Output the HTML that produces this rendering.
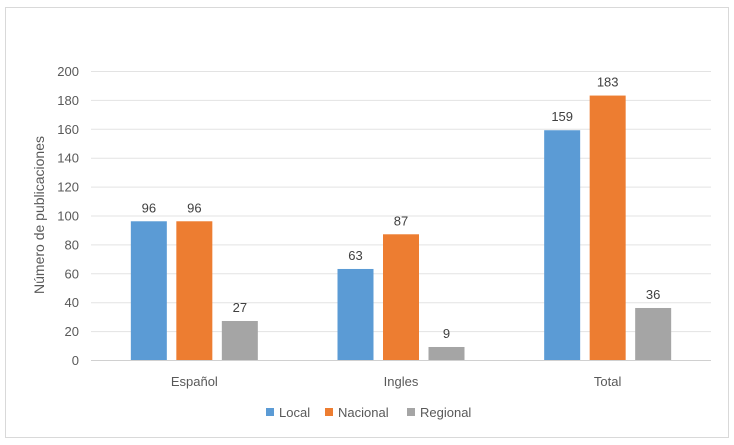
<!DOCTYPE html>
<html><head><meta charset="utf-8"><style>
body{margin:0;background:#fff;}
svg{display:block;font-family:"Liberation Sans",sans-serif;}
</style></head><body>
<svg id="c" width="734" height="445">
<rect x="5.5" y="7.5" width="723" height="430" fill="#fff" stroke="#d9d9d9"/>
<g id="grid"></g><g id="bars"></g><g id="labels"></g>
<text transform="translate(44,215) rotate(-90)" text-anchor="middle" font-size="14" fill="#595959">Número de publicaciones</text>
<g font-size="13" fill="#595959">
<rect x="266" y="408" width="8" height="8" fill="#5b9bd5"/>
<text x="279" y="417">Local</text>
<rect x="325" y="408" width="8" height="8" fill="#ed7d31"/>
<text x="338" y="417">Nacional</text>
<rect x="407" y="408" width="8" height="8" fill="#a5a5a5"/>
<text x="420" y="417">Regional</text>
</g>
</svg>
<script>
const categories=["Español","Ingles","Total"];
const seriesNames=["Local","Nacional","Regional"];
const local=[96,63,159];
const nacional=[96,87,183];
const regional=[27,9,36];
const yTicks=[0,20,40,60,80,100,120,140,160,180,200];
const colors=["#5b9bd5","#ed7d31","#a5a5a5"];
const NS="http://www.w3.org/2000/svg";
const x0=91,x1=711,yBase=360,yTop=71,yMax=200;
const y=v=>yBase-(v/yMax)*(yBase-yTop);
const gw=(x1-x0)/categories.length;
const cx=i=>x0+gw*(i+0.5);
const grid=document.getElementById('grid'),bars=document.getElementById('bars'),labels=document.getElementById('labels');
function mk(tag,attrs,parent,txt){const e=document.createElementNS(NS,tag);for(const k in attrs)e.setAttribute(k,attrs[k]);if(txt!==undefined)e.textContent=txt;parent.appendChild(e);return e;}
yTicks.forEach(t=>{
 const l=mk('line',{x1:x0,x2:x1,y1:y(t)+0.5,y2:y(t)+0.5,stroke:t===0?'#d0d0d0':'#e3e3e3'},grid);
 
 
 const tx=mk('text',{x:79,y:y(t)+5,'text-anchor':'end','font-size':'13',fill:'#595959'},grid,t);
 
 
});
const series=[local,nacional,regional];
categories.forEach((c,i)=>{
 const tx=mk('text',{x:cx(i),y:386,'text-anchor':'middle','font-size':'13',fill:'#595959'},labels,c);
 
 
 series.forEach((s,j)=>{
  const bc=cx(i)+(j-1)*45.5;
  const r=mk('rect',{x:bc-18,y:y(s[i]),width:36,height:yBase-y(s[i]),fill:colors[j]},bars);
  
  
  const v=mk('text',{x:bc,y:y(s[i])-9,'text-anchor':'middle','font-size':'13',fill:'#404040'},labels,s[i]);
  
  
 });
});
</script>
</body></html>
